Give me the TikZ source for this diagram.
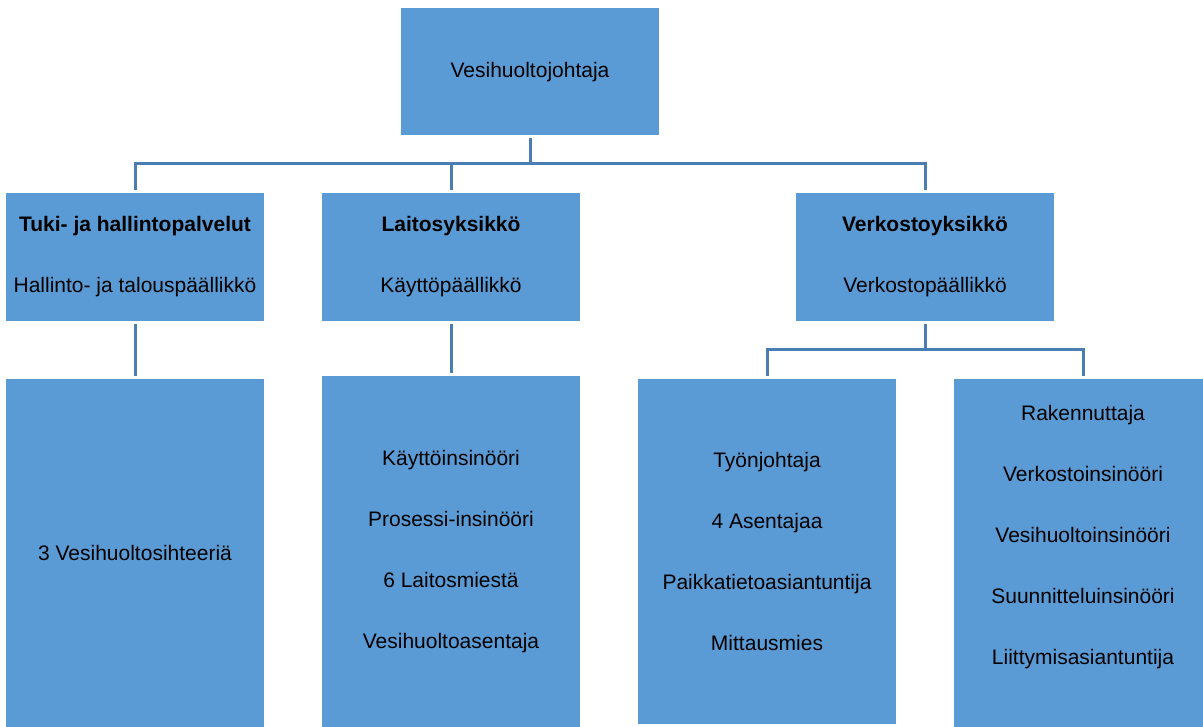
\documentclass[tikz,border=0pt]{standalone}
\usepackage{fontspec}
\setmainfont{Liberation Sans}
\definecolor{boxblue}{HTML}{5B9BD5}
\definecolor{lineblue}{HTML}{4A7EB3}
\begin{document}
\begin{tikzpicture}[x=1pt,y=-1pt,
  box/.style={rectangle,fill=boxblue,draw=none,inner sep=0pt,outer sep=0pt,anchor=north west},
  lbl/.style={align=center,inner sep=0pt,font=\fontsize{21}{61}\selectfont},
  conn/.style={draw=lineblue,line width=3pt}]
\useasboundingbox (0,0) rectangle (1203,727);
\clip (0,0) rectangle (1203,727);
% boxes
\node[box,minimum width=258pt,minimum height=127pt] (top) at (401,8) {};
\node[box,minimum width=258pt,minimum height=128pt] (tuki) at (6,193) {};
\node[box,minimum width=258pt,minimum height=128pt] (laitos) at (322,193) {};
\node[box,minimum width=258pt,minimum height=128pt] (verk) at (796,193) {};
\node[box,minimum width=258pt,minimum height=360pt] (tukiL) at (6,379) {};
\node[box,minimum width=258pt,minimum height=360pt] (laitosL) at (322,376) {};
\node[box,minimum width=258pt,minimum height=345pt] (tyo) at (638,379) {};
\node[box,minimum width=258pt,minimum height=360pt] (rak) at (954,379) {};
% texts
\node[lbl] (tTop) at (530,72) {Vesihuoltojohtaja};
\node[lbl] (tTuki) at (135,257) {\textbf{Tuki- ja hallintopalvelut}\\Hallinto- ja talouspäällikkö};
\node[lbl] (tLaitos) at (451,257) {\textbf{Laitosyksikkö}\\Käyttöpäällikkö};
\node[lbl] (tVerk) at (925,257) {\textbf{Verkostoyksikkö}\\Verkostopäällikkö};
\node[lbl] (tTukiL) at (135,553) {3 Vesihuoltosihteeriä};
\node[lbl] (tLaitosL) at (451,552) {Käyttöinsinööri\\Prosessi-insinööri\\6 Laitosmiestä\\Vesihuoltoasentaja};
\node[lbl] (tTyo) at (767,551) {Työnjohtaja\\4 Asentajaa\\Paikkatietoasiantuntija\\Mittausmies};
\node[lbl] (tRak) at (1083,537) {Rakennuttaja\\Verkostoinsinööri\\Vesihuoltoinsinööri\\Suunnitteluinsinööri\\Liittymisasiantuntija};
% connectors
\coordinate (busA) at (530,164);
\coordinate (busB) at (925,350);
\draw[conn,shorten <=3pt] (top.south) -- (busA);
\draw[conn,shorten <=3pt] (tuki.north) |- (busA);
\draw[conn,shorten <=3pt] (laitos.north) |- (busA);
\draw[conn,shorten <=3pt] (verk.north) |- (busA);
\draw[conn,shorten <=3pt,shorten >=3pt] (tuki.south) -- (tukiL.north);
\draw[conn,shorten <=3pt,shorten >=3pt] (laitos.south) -- (laitosL.north);
\draw[conn,shorten <=3pt] (verk.south) -- (busB);
\draw[conn,shorten <=3pt] (tyo.north) |- (busB);
\draw[conn,shorten <=3pt] (rak.north -| tRak.center) |- (busB);
\end{tikzpicture}
\end{document}
